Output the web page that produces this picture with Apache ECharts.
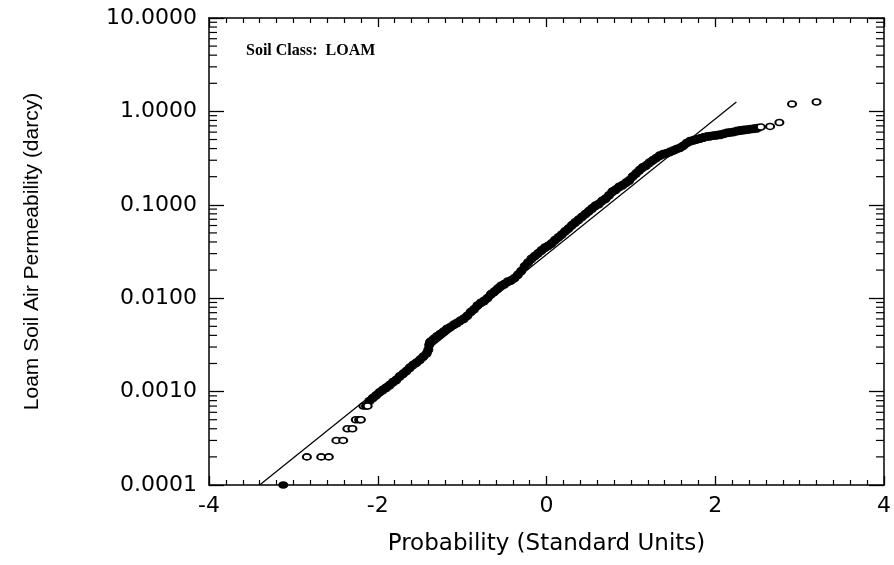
<!DOCTYPE html>
<html>
<head>
<meta charset="utf-8">
<script src="https://cdn.jsdelivr.net/npm/echarts@6/dist/echarts.min.js"></script>
<style>
  html, body { margin: 0; padding: 0; background: #fff; }
  #chart { width: 894px; height: 565px; }
</style>
</head>
<body>
<div id="chart"></div>
<script>
// Normal-score probability plot of loam soil air permeability (darcy, log scale)

// Lower tail: isolated observations [standard score, permeability]
const lowerTail = [
  [-3.12, 0.0001],
  [-2.84, 0.0002], [-2.67, 0.0002], [-2.58, 0.0002],
  [-2.49, 0.0003], [-2.41, 0.0003],
  [-2.36, 0.0004], [-2.30, 0.0004],
  [-2.26, 0.0005], [-2.22, 0.0005], [-2.20, 0.0005],
  [-2.17, 0.0007], [-2.14, 0.0007], [-2.12, 0.0007]
];

// Central body of the sample, where the observations overlap
const centralBody = [
  [-2.10, 0.00079], [-2.06, 0.00085], [-2.02, 0.00091], [-1.98, 0.00098],
  [-1.94, 0.00104], [-1.90, 0.00110], [-1.86, 0.00117], [-1.82, 0.00126],
  [-1.78, 0.00133], [-1.74, 0.00145], [-1.70, 0.00155], [-1.66, 0.00166],
  [-1.62, 0.00180], [-1.58, 0.00193], [-1.54, 0.00204], [-1.50, 0.00219],
  [-1.46, 0.00237], [-1.42, 0.00257], [-1.40, 0.00282], [-1.39, 0.00316],
  [-1.38, 0.00339], [-1.34, 0.00363], [-1.30, 0.00389], [-1.26, 0.00412],
  [-1.22, 0.00437], [-1.18, 0.00468], [-1.14, 0.00490], [-1.10, 0.00519],
  [-1.06, 0.00543], [-1.02, 0.00575], [-0.98, 0.00603], [-0.94, 0.00646],
  [-0.90, 0.00708], [-0.86, 0.00759], [-0.82, 0.00832], [-0.78, 0.00891],
  [-0.74, 0.00933], [-0.70, 0.0100], [-0.66, 0.0110], [-0.62, 0.0117],
  [-0.58, 0.0126], [-0.54, 0.0135], [-0.50, 0.0141], [-0.46, 0.0150],
  [-0.42, 0.0155], [-0.38, 0.0164], [-0.34, 0.0178], [-0.30, 0.0195],
  [-0.26, 0.0219], [-0.22, 0.0240], [-0.18, 0.0263], [-0.14, 0.0282],
  [-0.10, 0.0302], [-0.06, 0.0324], [-0.02, 0.0347], [0.02, 0.0363],
  [0.06, 0.0385], [0.10, 0.0417], [0.14, 0.0447], [0.18, 0.0479],
  [0.22, 0.0519], [0.26, 0.0556], [0.30, 0.0603], [0.34, 0.0646],
  [0.38, 0.0692], [0.42, 0.0741], [0.46, 0.0794], [0.50, 0.0851],
  [0.54, 0.0912], [0.58, 0.0977], [0.62, 0.102], [0.66, 0.110],
  [0.70, 0.116], [0.74, 0.126], [0.78, 0.138], [0.82, 0.145],
  [0.86, 0.155], [0.90, 0.162], [0.94, 0.172], [0.98, 0.182],
  [1.02, 0.200], [1.06, 0.216], [1.10, 0.234], [1.14, 0.251],
  [1.18, 0.263], [1.22, 0.282], [1.26, 0.299], [1.30, 0.316],
  [1.34, 0.335], [1.38, 0.347], [1.42, 0.355], [1.46, 0.367],
  [1.50, 0.380], [1.54, 0.394], [1.58, 0.407], [1.62, 0.427],
  [1.66, 0.457], [1.70, 0.479], [1.74, 0.490], [1.78, 0.501],
  [1.82, 0.513], [1.86, 0.525], [1.90, 0.537], [1.94, 0.543],
  [1.98, 0.550], [2.02, 0.556], [2.06, 0.562], [2.10, 0.575],
  [2.14, 0.589], [2.18, 0.596], [2.22, 0.603], [2.26, 0.617],
  [2.30, 0.624], [2.34, 0.631], [2.38, 0.638], [2.42, 0.646],
  [2.46, 0.653], [2.50, 0.661]
];

// Upper tail: isolated observations
const upperTail = [
  [2.54, 0.68], [2.65, 0.69], [2.76, 0.76], [2.91, 1.20], [3.20, 1.26]
];

// Fitted lognormal reference line (end points)
const fittedLine = [[-3.40, 0.0001], [2.25, 1.26]];

// Axis ranges and ticks
const xRange = [-4, 4];
const xStep = 2;
const yRange = [0.0001, 10];
const yMinorTicks = [];
[0.0001, 0.001, 0.01, 0.1, 1].forEach(function (decade) {
  [2, 3, 4, 5, 6, 7, 8, 9].forEach(function (m) { yMinorTicks.push(+(m * decade).toPrecision(3)); });
});

const labelFont = { fontFamily: 'DejaVu Sans', fontSize: 22, color: '#000' };
const openMarker = { color: '#fff', borderColor: '#000', borderWidth: 1.8, opacity: 1 };

const chart = echarts.init(document.getElementById('chart'), null, { renderer: 'canvas' });

// observations sitting on the lower limit are drawn as solid dots
const tailItems = lowerTail.concat(upperTail).map(function (p) {
  return p[1] <= yRange[0]
    ? { value: p, itemStyle: { color: '#000', borderColor: '#000' } }
    : { value: p };
});

chart.setOption({
  animation: false,
  backgroundColor: '#fff',
  grid: { left: 209, right: 8, top: 18, bottom: 80 },
  xAxis: [
    {
      type: 'value', position: 'bottom', min: xRange[0], max: xRange[1], interval: xStep,
      axisLine: { show: true, onZero: false, lineStyle: { color: '#000', width: 1.5 } },
      axisTick: { show: true, inside: true, length: 9, lineStyle: { color: '#000', width: 1.3 } },
      minorTick: { show: true, splitNumber: 10, length: 5, lineStyle: { color: '#000', width: 1.2 } },
      splitLine: { show: false },
      axisLabel: Object.assign({ margin: 10 }, labelFont),
      name: 'Probability (Standard Units)',
      nameLocation: 'middle', nameGap: 48,
      nameTextStyle: { fontFamily: 'DejaVu Sans', fontSize: 23, color: '#000' }
    },
    {
      type: 'value', position: 'top', min: xRange[0], max: xRange[1], interval: xStep,
      axisLine: { show: true, onZero: false, lineStyle: { color: '#000', width: 1.5 } },
      axisTick: { show: true, inside: true, length: 9, lineStyle: { color: '#000', width: 1.3 } },
      minorTick: { show: true, splitNumber: 10, length: 5, lineStyle: { color: '#000', width: 1.2 } },
      splitLine: { show: false },
      axisLabel: { show: false }
    }
  ],
  yAxis: [
    {
      type: 'log', logBase: 10, position: 'left', min: yRange[0], max: yRange[1],
      axisLine: { show: true, onZero: false, lineStyle: { color: '#000', width: 1.5 } },
      axisTick: { show: true, inside: true, length: 15, lineStyle: { color: '#000', width: 1.3 } },
      splitLine: { show: false },
      axisLabel: Object.assign({ margin: 12, formatter: function (v) { return Number(v).toFixed(4); } }, labelFont),
      name: 'Loam Soil Air Permeability (darcy)',
      nameLocation: 'middle', nameGap: 166,
      nameTextStyle: { fontFamily: 'Liberation Sans', fontSize: 21, color: '#000' }
    },
    {
      type: 'log', logBase: 10, position: 'right', min: yRange[0], max: yRange[1],
      axisLine: { show: true, onZero: false, lineStyle: { color: '#000', width: 1.5 } },
      axisTick: { show: true, inside: true, length: 15, lineStyle: { color: '#000', width: 1.3 } },
      splitLine: { show: false },
      axisLabel: { show: false }
    }
  ],
  graphic: [
    {
      type: 'text', left: 246, top: 43,
      style: { text: 'Soil Class:  LOAM', fontFamily: 'Liberation Serif', fontWeight: 'bold', fontSize: 16, fill: '#000' }
    }
  ],
  series: [
    {
      // logarithmic minor ticks on left and right frame edges
      type: 'custom', xAxisIndex: 0, yAxisIndex: 0, silent: true, clip: false,
      data: yMinorTicks.map(function (v) { return [xRange[0], v]; }),
      encode: { x: 0, y: 1 },
      renderItem: function (params, api) {
        const v = api.value(1);
        const pl = api.coord([xRange[0], v]);
        const pr = api.coord([xRange[1], v]);
        const st = { stroke: '#000', lineWidth: 1.2 };
        return {
          type: 'group',
          children: [
            { type: 'line', shape: { x1: pl[0], y1: pl[1], x2: pl[0] + 8, y2: pl[1] }, style: st },
            { type: 'line', shape: { x1: pr[0], y1: pr[1], x2: pr[0] - 8, y2: pr[1] }, style: st }
          ]
        };
      }
    },
    {
      type: 'line', data: fittedLine, showSymbol: false, symbol: 'none',
      lineStyle: { color: '#000', width: 1.2 }, z: 3
    },
    {
      // overlapping observations merge into a solid band
      type: 'scatter', data: centralBody, symbol: 'circle', symbolSize: [9, 8],
      itemStyle: { color: '#000', borderColor: '#000', borderWidth: 1, opacity: 1 }, z: 4
    },
    {
      type: 'scatter', data: tailItems, symbol: 'circle', symbolSize: [8, 6],
      itemStyle: openMarker, z: 4
    }
  ]
});
</script>
</body>
</html>
